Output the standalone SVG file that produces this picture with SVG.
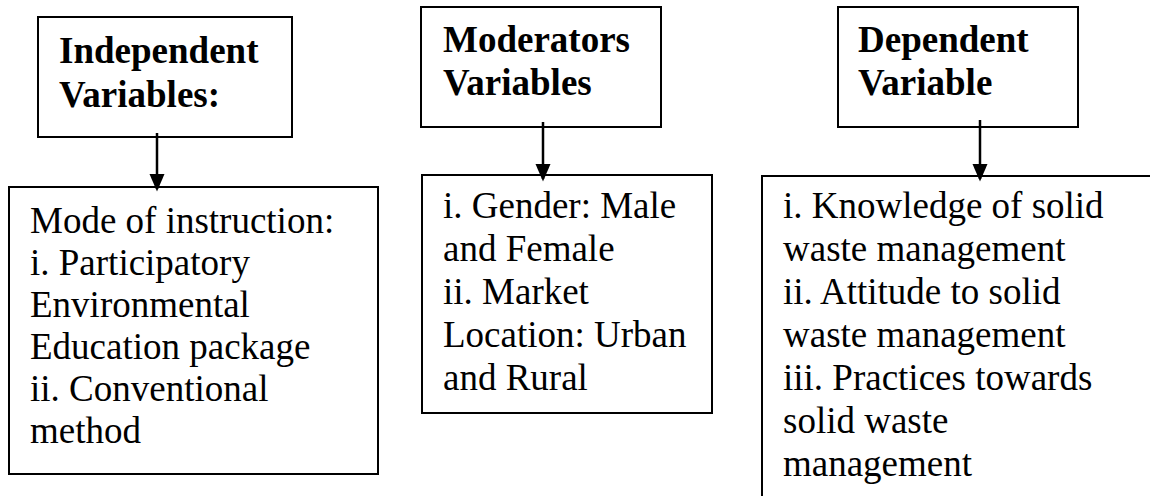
<svg xmlns="http://www.w3.org/2000/svg" width="1150" height="496" viewBox="0 0 1150 496">
<style>
.box{fill:#fff;stroke:#000;stroke-width:2}
.h{font-size:37px;font-weight:bold;fill:#000}
.t{font-size:37px;fill:#000}
.c{stroke:#000;stroke-width:2.5;fill:none}
</style>
<defs>
<marker id="ah" markerWidth="7" markerHeight="7" refX="6" refY="3" orient="auto" markerUnits="strokeWidth" viewBox="0 0 7 6">
<path d="M0,0 L7,3 L0,6 Z" fill="#000"/>
</marker>
</defs>
<rect width="1150" height="496" fill="#fff"/>
<g font-family="'Liberation Serif', 'DejaVu Serif', serif">
<g id="indep-header">
<rect class="box" x="38" y="17" width="254" height="120"/>
<text class="h" x="59" y="63">Independent</text>
<text class="h" x="59" y="107">Variables:</text>
</g>
<g id="indep-body">
<rect class="box" x="9" y="187" width="369" height="287"/>
<text class="t" x="30"><tspan x="30" y="233">Mode of instruction:</tspan><tspan x="30" y="275">i. Participatory</tspan><tspan x="30" y="317">Environmental</tspan><tspan x="30" y="359">Education package</tspan><tspan x="30" y="401">ii. Conventional</tspan><tspan x="30" y="443">method</tspan></text>
</g>
<g id="mod-header">
<rect class="box" x="421" y="7" width="240" height="120"/>
<text class="h" x="443" y="52">Moderators</text>
<text class="h" x="443" y="95">Variables</text>
</g>
<g id="mod-body">
<rect class="box" x="422" y="175" width="290" height="238"/>
<text class="t"><tspan x="443" y="218">i. Gender: Male</tspan><tspan x="443" y="261">and Female</tspan><tspan x="443" y="304">ii. Market</tspan><tspan x="443" y="347">Location: Urban</tspan><tspan x="443" y="390">and Rural</tspan></text>
</g>
<g id="dep-header">
<rect class="box" x="838" y="7" width="240" height="120"/>
<text class="h" x="858" y="52">Dependent</text>
<text class="h" x="858" y="95">Variable</text>
</g>
<g id="dep-body">
<rect class="box" x="762" y="176" width="420" height="340"/>
<text class="t"><tspan x="783" y="218">i. Knowledge of solid</tspan><tspan x="783" y="261">waste management</tspan><tspan x="783" y="304">ii. Attitude to solid</tspan><tspan x="783" y="347">waste management</tspan><tspan x="783" y="390">iii. Practices towards</tspan><tspan x="783" y="433">solid waste</tspan><tspan x="783" y="476">management</tspan></text>
</g>
</g>
<g id="connectors">
<line class="c" x1="157" y1="133" x2="157" y2="189" marker-end="url(#ah)"/>
<line class="c" x1="543" y1="122" x2="543" y2="179" marker-end="url(#ah)"/>
<line class="c" x1="980" y1="120" x2="980" y2="179" marker-end="url(#ah)"/>
</g>
</svg>
